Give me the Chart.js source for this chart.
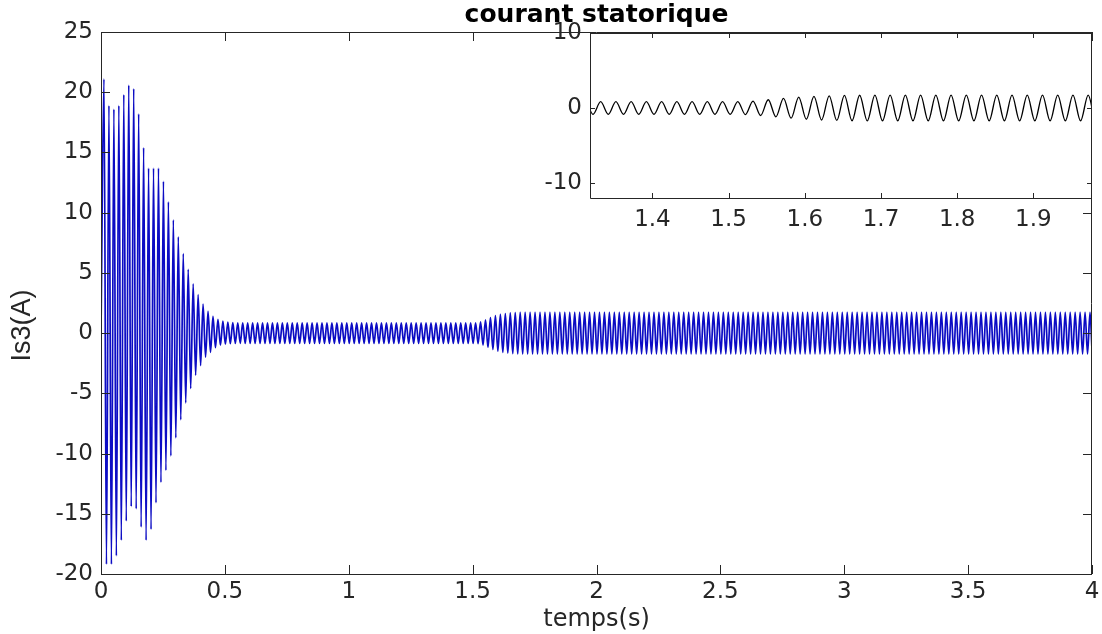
<!DOCTYPE html>
<html><head><meta charset="utf-8">
<script src="https://cdn.jsdelivr.net/npm/chart.js@4.4.1/dist/chart.umd.min.js"></script>
<style>
html,body{margin:0;padding:0;background:#fff;}
#wrap{position:relative;width:1102px;height:634px;overflow:hidden;background:#fff;}
#main{position:absolute;left:0;top:0;}
#inset{position:absolute;left:530px;top:19px;}
</style></head><body>
<div id="wrap"><canvas id="main" width="1102" height="634"></canvas><canvas id="inset" width="564" height="219"></canvas></div>
<script>
// time (s) of each extremum of the stator current
const timeS = [
0,0.012,0.022,0.032,0.042,0.052,0.062,0.072,0.082,0.092,
0.102,0.112,0.122,0.132,0.142,0.152,0.162,0.172,0.182,0.192,
0.202,0.212,0.222,0.232,0.242,0.252,0.262,0.272,0.282,0.292,
0.302,0.312,0.322,0.332,0.342,0.352,0.362,0.372,0.382,0.392,
0.402,0.412,0.422,0.432,0.442,0.452,0.462,0.472,0.482,0.492,
0.502,0.512,0.522,0.532,0.542,0.552,0.562,0.572,0.582,0.592,
0.602,0.612,0.622,0.632,0.642,0.652,0.662,0.672,0.682,0.692,
0.702,0.712,0.722,0.732,0.742,0.752,0.762,0.772,0.782,0.792,
0.802,0.812,0.822,0.832,0.842,0.852,0.862,0.872,0.882,0.892,
0.902,0.912,0.922,0.932,0.942,0.952,0.962,0.972,0.982,0.992,
1.002,1.012,1.022,1.032,1.042,1.052,1.062,1.072,1.082,1.092,
1.102,1.112,1.122,1.132,1.142,1.152,1.162,1.172,1.182,1.192,
1.202,1.212,1.222,1.232,1.242,1.252,1.262,1.272,1.282,1.292,
1.302,1.312,1.322,1.332,1.342,1.352,1.362,1.372,1.382,1.392,
1.402,1.412,1.422,1.432,1.442,1.452,1.462,1.472,1.482,1.492,
1.502,1.512,1.522,1.532,1.542,1.552,1.562,1.572,1.582,1.592,
1.602,1.612,1.622,1.632,1.642,1.652,1.662,1.672,1.682,1.692,
1.702,1.712,1.722,1.732,1.742,1.752,1.762,1.772,1.782,1.792,
1.802,1.812,1.822,1.832,1.842,1.852,1.862,1.872,1.882,1.892,
1.902,1.912,1.922,1.932,1.942,1.952,1.962,1.972,1.982,1.992,
2.002,2.012,2.022,2.032,2.042,2.052,2.062,2.072,2.082,2.092,
2.102,2.112,2.122,2.132,2.142,2.152,2.162,2.172,2.182,2.192,
2.202,2.212,2.222,2.232,2.242,2.252,2.262,2.272,2.282,2.292,
2.302,2.312,2.322,2.332,2.342,2.352,2.362,2.372,2.382,2.392,
2.402,2.412,2.422,2.432,2.442,2.452,2.462,2.472,2.482,2.492,
2.502,2.512,2.522,2.532,2.542,2.552,2.562,2.572,2.582,2.592,
2.602,2.612,2.622,2.632,2.642,2.652,2.662,2.672,2.682,2.692,
2.702,2.712,2.722,2.732,2.742,2.752,2.762,2.772,2.782,2.792,
2.802,2.812,2.822,2.832,2.842,2.852,2.862,2.872,2.882,2.892,
2.902,2.912,2.922,2.932,2.942,2.952,2.962,2.972,2.982,2.992,
3.002,3.012,3.022,3.032,3.042,3.052,3.062,3.072,3.082,3.092,
3.102,3.112,3.122,3.132,3.142,3.152,3.162,3.172,3.182,3.192,
3.202,3.212,3.222,3.232,3.242,3.252,3.262,3.272,3.282,3.292,
3.302,3.312,3.322,3.332,3.342,3.352,3.362,3.372,3.382,3.392,
3.402,3.412,3.422,3.432,3.442,3.452,3.462,3.472,3.482,3.492,
3.502,3.512,3.522,3.532,3.542,3.552,3.562,3.572,3.582,3.592,
3.602,3.612,3.622,3.632,3.642,3.652,3.662,3.672,3.682,3.692,
3.702,3.712,3.722,3.732,3.742,3.752,3.762,3.772,3.782,3.792,
3.802,3.812,3.822,3.832,3.842,3.852,3.862,3.872,3.882,3.892,
3.902,3.912,3.922,3.932,3.942,3.952,3.962,3.972,3.982,3.992,
4
];
// Is3 (A) at those instants (alternating peaks / troughs)
const currentA = [
0,21.1,-19.2,18.9,-19.2,18.6,-18.5,18.9,-17.2,19.8,
-15.6,20.6,-14.4,20.3,-14.6,18.2,-16.1,15.4,-17.2,13.7,
-16.3,13.7,-14.1,13.7,-12.4,12.6,-11.4,10.9,-10.2,9.4,
-8.7,8.0,-7.2,6.6,-5.8,5.3,-4.6,4.1,-3.5,3.2,
-2.7,2.4,-2.0,1.8,-1.6,1.4,-1.2,1.15,-1.0,1.0,
-0.92,0.92,-0.88,0.88,-0.86,0.86,-0.85,0.85,-0.85,0.85,
-0.85,0.85,-0.85,0.85,-0.85,0.85,-0.85,0.85,-0.85,0.85,
-0.85,0.85,-0.85,0.85,-0.85,0.85,-0.85,0.85,-0.85,0.85,
-0.85,0.85,-0.85,0.85,-0.85,0.85,-0.85,0.85,-0.85,0.85,
-0.85,0.85,-0.85,0.85,-0.85,0.85,-0.85,0.85,-0.85,0.85,
-0.85,0.85,-0.85,0.85,-0.85,0.85,-0.85,0.85,-0.85,0.85,
-0.85,0.85,-0.85,0.85,-0.85,0.85,-0.85,0.85,-0.85,0.85,
-0.85,0.85,-0.85,0.85,-0.85,0.85,-0.85,0.85,-0.85,0.85,
-0.85,0.85,-0.85,0.85,-0.85,0.85,-0.85,0.85,-0.85,0.85,
-0.85,0.85,-0.85,0.85,-0.85,0.85,-0.85,0.85,-0.85,0.85,
-0.85,0.85,-0.88,0.93,-1.0,1.1,-1.18,1.28,-1.36,1.46,
-1.5,1.55,-1.6,1.63,-1.66,1.68,-1.7,1.7,-1.72,1.72,
-1.72,1.72,-1.72,1.72,-1.72,1.72,-1.72,1.72,-1.72,1.72,
-1.72,1.72,-1.72,1.72,-1.72,1.72,-1.72,1.72,-1.72,1.72,
-1.72,1.72,-1.72,1.72,-1.72,1.72,-1.72,1.72,-1.72,1.72,
-1.72,1.72,-1.72,1.72,-1.72,1.72,-1.72,1.72,-1.72,1.72,
-1.72,1.72,-1.72,1.72,-1.72,1.72,-1.72,1.72,-1.72,1.72,
-1.72,1.72,-1.72,1.72,-1.72,1.72,-1.72,1.72,-1.72,1.72,
-1.72,1.72,-1.72,1.72,-1.72,1.72,-1.72,1.72,-1.72,1.72,
-1.72,1.72,-1.72,1.72,-1.72,1.72,-1.72,1.72,-1.72,1.72,
-1.72,1.72,-1.72,1.72,-1.72,1.72,-1.72,1.72,-1.72,1.72,
-1.72,1.72,-1.72,1.72,-1.72,1.72,-1.72,1.72,-1.72,1.72,
-1.72,1.72,-1.72,1.72,-1.72,1.72,-1.72,1.72,-1.72,1.72,
-1.72,1.72,-1.72,1.72,-1.72,1.72,-1.72,1.72,-1.72,1.72,
-1.72,1.72,-1.72,1.72,-1.72,1.72,-1.72,1.72,-1.72,1.72,
-1.72,1.72,-1.72,1.72,-1.72,1.72,-1.72,1.72,-1.72,1.72,
-1.72,1.72,-1.72,1.72,-1.72,1.72,-1.72,1.72,-1.72,1.72,
-1.72,1.72,-1.72,1.72,-1.72,1.72,-1.72,1.72,-1.72,1.72,
-1.72,1.72,-1.72,1.72,-1.72,1.72,-1.72,1.72,-1.72,1.72,
-1.72,1.72,-1.72,1.72,-1.72,1.72,-1.72,1.72,-1.72,1.72,
-1.72,1.72,-1.72,1.72,-1.72,1.72,-1.72,1.72,-1.72,1.72,
-1.72,1.72,-1.72,1.72,-1.72,1.72,-1.72,1.72,-1.72,1.72,
-1.72,1.72,-1.72,1.72,-1.72,1.72,-1.72,1.72,-1.72,1.72,
-1.72,1.72,-1.72,1.72,-1.72,1.72,-1.72,1.72,-1.72,1.72,
-1.72,1.72,-1.72,1.72,-1.72,1.72,-1.72,1.72,-1.72,1.72,
-1.4
];
const mainXTicks = [0,0.5,1,1.5,2,2.5,3,3.5,4];
const mainYTicks = [-20,-15,-10,-5,0,5,10,15,20,25];
const insetXTicks = [1.4,1.5,1.6,1.7,1.8,1.9];
const insetYTicks = [-10,0,10];
const titleText = 'courant statorique';
const xTitle = 'temps(s)';
const yTitle = 'Is3(A)';

const points = timeS.map((t, i) => ({x: t, y: currentA[i]}));
const AX = '#262626';
Chart.defaults.font.family = "'DejaVu Sans', 'Liberation Sans', sans-serif";
Chart.defaults.color = AX;

const boxPlugin = {
  id: 'matlabBox',
  beforeDraw(chart, args, opts) {
    if (!opts.fill) return;
    const a = chart.chartArea, ctx = chart.ctx;
    ctx.save(); ctx.fillStyle = '#fff';
    ctx.fillRect(a.left, a.top, a.right - a.left, a.bottom - a.top);
    ctx.restore();
  },
  afterDatasetsDraw(chart, args, opts) {
    const {ctx, chartArea: a, scales} = chart;
    const len = opts.tickLength;
    ctx.save();
    ctx.strokeStyle = AX; ctx.lineWidth = 1;
    ctx.beginPath();
    scales.x.ticks.forEach(t => {
      const px = Math.round(scales.x.getPixelForValue(t.value)) + 0.5;
      ctx.moveTo(px, a.bottom); ctx.lineTo(px, a.bottom - len);
      ctx.moveTo(px, a.top); ctx.lineTo(px, a.top + len);
    });
    scales.y.ticks.forEach(t => {
      const py = Math.round(scales.y.getPixelForValue(t.value)) + 0.5;
      ctx.moveTo(a.left, py); ctx.lineTo(a.left + len, py);
      ctx.moveTo(a.right, py); ctx.lineTo(a.right - len, py);
    });
    ctx.rect(Math.round(a.left) + 0.5, Math.round(a.top) + 0.5,
             Math.round(a.right - a.left) - 1, Math.round(a.bottom - a.top));
    ctx.stroke();
    ctx.restore();
  }
};

function setTicks(arr) { return s => { s.ticks = arr.map(v => ({value: v})); }; }

new Chart(document.getElementById('main'), {
  type: 'line',
  data: { datasets: [{ data: points, borderColor: '#0c0cc4', borderWidth: 1.7,
    pointRadius: 0, cubicInterpolationMode: 'monotone', fill: false }] },
  options: {
    responsive: false, animation: false, devicePixelRatio: 1,
    layout: { padding: { left: 0, right: 10, top: 0, bottom: 0 } },
    plugins: {
      legend: { display: false }, tooltip: { enabled: false },
      title: { display: true, text: titleText, fullSize: false, color: '#000',
        font: { size: 25, weight: 'bold', family: "'DejaVu Sans', sans-serif" },
        padding: { top: 0, bottom: 2 } },
      matlabBox: { tickLength: 9, fill: false }
    },
    scales: {
      x: { type: 'linear', min: 0, max: 4,
        afterBuildTicks: setTicks(mainXTicks),
        afterFit: s => { s.height = 60; },
        grid: { display: false }, border: { display: false },
        ticks: { font: { size: 23 }, padding: -4, maxRotation: 0, autoSkip: false,
          callback: v => String(v) },
        title: { display: true, text: xTitle, font: { size: 24 }, padding: { top: 0, bottom: 0 } } },
      y: { type: 'linear', min: -20, max: 25,
        afterBuildTicks: setTicks(mainYTicks),
        afterFit: s => { s.width = 101; },
        grid: { display: false }, border: { display: false },
        ticks: { font: { size: 23 }, padding: 0, autoSkip: false, callback: v => String(v) },
        title: { display: true, text: yTitle + '      ', font: { size: 27, family: "'Liberation Sans', Arial, sans-serif" },
          padding: { top: 6, bottom: 0 } } }
    }
  },
  plugins: [boxPlugin]
});

new Chart(document.getElementById('inset'), {
  type: 'line',
  data: { datasets: [{ data: points, borderColor: '#000', borderWidth: 1.3,
    pointRadius: 0, cubicInterpolationMode: 'monotone', fill: false }] },
  options: {
    responsive: false, animation: false, devicePixelRatio: 1,
    layout: { padding: { left: 0, right: 2, top: 14, bottom: 0 } },
    plugins: { legend: { display: false }, tooltip: { enabled: false },
      matlabBox: { tickLength: 5, fill: true } },
    scales: {
      x: { type: 'linear', min: 1.318, max: 1.977,
        afterBuildTicks: setTicks(insetXTicks),
        afterFit: s => { s.height = 40; },
        grid: { display: false }, border: { display: false },
        ticks: { font: { size: 23 }, padding: 0, maxRotation: 0, autoSkip: false,
          callback: v => String(v) } },
      y: { type: 'linear', min: -12, max: 10,
        afterBuildTicks: setTicks(insetYTicks),
        afterFit: s => { s.width = 60; },
        grid: { display: false }, border: { display: false },
        ticks: { font: { size: 23 }, padding: 0, autoSkip: false, callback: v => String(v) } }
    }
  },
  plugins: [boxPlugin]
});
</script></body></html>
